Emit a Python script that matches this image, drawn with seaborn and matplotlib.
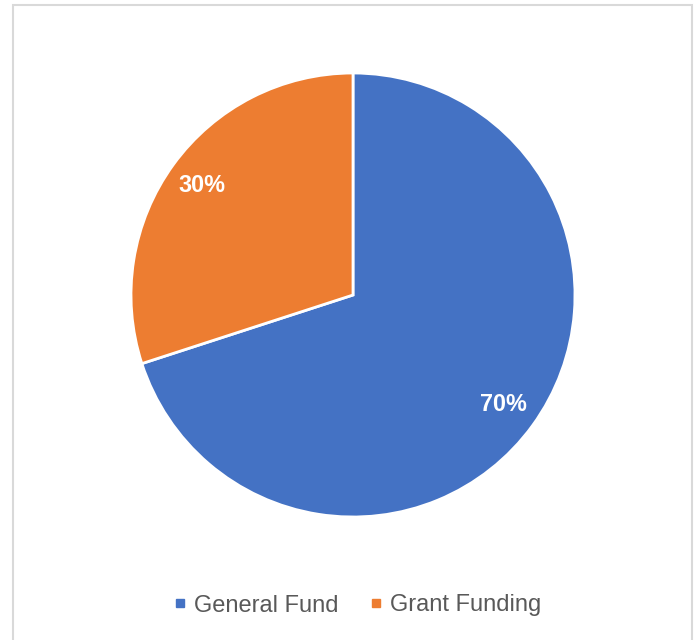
import matplotlib
matplotlib.use("Agg")
import matplotlib.pyplot as plt
import seaborn as sns
from matplotlib.lines import Line2D
from matplotlib.patches import Rectangle

categories = ["General Fund", "Grant Funding"]
values = [70, 30]
labels = ["70%", "30%"]

sns.set_theme(style="white")
plt.rcParams['font.family'] = ['Liberation Sans', 'DejaVu Sans']
colors = ["#4472C4", "#ED7D31"]

W, H = 699, 640
fig = plt.figure(figsize=(W / 100, H / 100), dpi=100)
fig.patch.set_facecolor("white")

# chart border
fig.add_artist(Rectangle((12.5 / W, -0.01), (692 - 12.5) / W, (H - 5.5) / H + 0.01,
                         transform=fig.transFigure, fill=False,
                         edgecolor="#D9D9D9", linewidth=1.5))

cx, cy, r = 353, 295, 222
ax = fig.add_axes([(cx - r) / W, (H - cy - r) / H, 2 * r / W, 2 * r / H])
wedges, texts, autotexts = ax.pie(values, colors=colors, startangle=90, counterclock=False,
                                  radius=1, autopct=lambda p: f"{p:.0f}%", pctdistance=0.84,
                                  wedgeprops=dict(edgecolor="white", linewidth=2, clip_on=False),
                                  textprops=dict(color="white", fontsize=16.8, fontweight="bold"))
ax.set_xlim(-1.0, 1.0)
ax.set_ylim(-1.0, 1.0)
ax.set_aspect("equal")
ax.axis("off")

handles = [Line2D([0], [0], marker="s", linestyle="none", markersize=5.5,
                  markerfacecolor=c, markeredgecolor=c) for c in colors]
leg = fig.legend(handles, categories, loc="center", bbox_to_anchor=(357.5 / W, 1 - 605.5 / H),
                 ncol=2, frameon=False, fontsize=17, handlelength=0.5, handletextpad=0.35,
                 columnspacing=1.35, labelcolor="#595959")

fig.savefig("out.png", dpi=100, facecolor="white")
